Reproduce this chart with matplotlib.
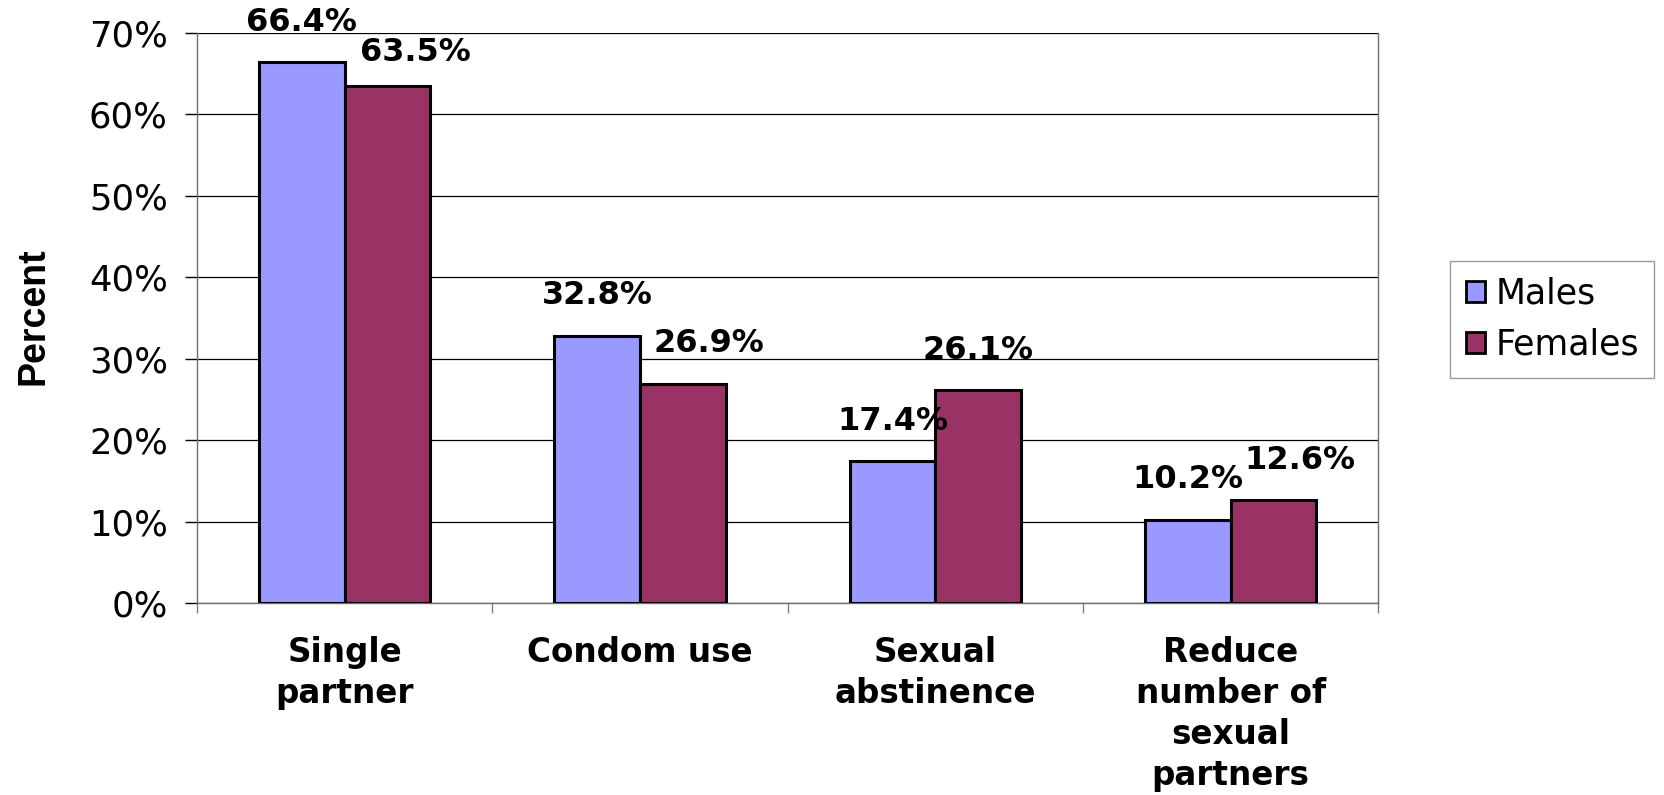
import numpy as np
import matplotlib
matplotlib.use("Agg")
import matplotlib.pyplot as plt
from matplotlib.ticker import FixedLocator, PercentFormatter

# data
categories = ["Single\npartner", "Condom use", "Sexual\nabstinence",
              "Reduce\nnumber of\nsexual\npartners"]
males = [66.4, 32.8, 17.4, 10.2]
females = [63.5, 26.9, 26.1, 12.6]
series_names = ["Males", "Females"]
y_ticks = [0, 10, 20, 30, 40, 50, 60, 70]

# label nudges (pixels) for the female value labels
female_dx = [28, 26, 0, 26]
female_dy = [33, 40, 40, 40]

male_color = "#9999FF"
female_color = "#993366"

plt.rcParams['font.family'] = ['DejaVu Sans']

fig = plt.figure(figsize=(16.64, 7.95), dpi=100)
ax = fig.add_axes([0.1184, 0.2415, 0.8283 - 0.1184, 0.9585 - 0.2415])

x = np.arange(len(categories))
w = 0.29
b1 = ax.bar(x - w / 2, males, w, color=male_color, edgecolor="black",
            linewidth=2.2, label=series_names[0], zorder=3)
b2 = ax.bar(x + w / 2, females, w, color=female_color, edgecolor="black",
            linewidth=2.2, label=series_names[1], zorder=3)

# value labels
for i, r in enumerate(b1):
    ax.annotate(f"{males[i]:.1f}%", (r.get_x() + r.get_width() / 2, r.get_height()),
                xytext=(0, 40), textcoords="offset pixels", ha="center", va="center",
                fontsize=23, fontweight="bold", zorder=5, annotation_clip=False)
for i, r in enumerate(b2):
    ax.annotate(f"{females[i]:.1f}%", (r.get_x() + r.get_width() / 2, r.get_height()),
                xytext=(female_dx[i], female_dy[i]), textcoords="offset pixels",
                ha="center", va="center", fontsize=23, fontweight="bold", zorder=5,
                annotation_clip=False)

ax.set_xlim(-0.5, len(categories) - 0.5)
ax.set_ylim(0, 70)
ax.yaxis.set_major_locator(FixedLocator(y_ticks))
ax.yaxis.set_major_formatter(PercentFormatter(decimals=0))
ax.grid(axis="y", color="black", linewidth=0.9, zorder=0)
ax.set_axisbelow(True)

ax.set_xticks(x)
ax.set_xticklabels(categories, fontsize=23.5, fontweight="bold", linespacing=1.3,
                   va="top")
ax.xaxis.set_minor_locator(FixedLocator(np.arange(-0.5, len(categories), 1.0)))
ax.tick_params(axis="x", which="major", length=0, pad=24)
ax.tick_params(axis="x", which="minor", length=7, width=1, color="#808080")
ax.tick_params(axis="y", length=9, width=1, color="black", labelsize=25.5, pad=12)

for s in ["left", "right", "bottom"]:
    ax.spines[s].set_color("#707070")
    ax.spines[s].set_linewidth(1)
ax.spines["top"].set_visible(False)

fig.text(0.0204, 0.6025, "Percent", rotation=90, ha="center", va="center",
         fontsize=27, fontweight="bold", family=["Liberation Sans", "DejaVu Sans"])

leg = fig.legend(handles=[b1, b2], labels=series_names, loc="upper left",
                 bbox_to_anchor=(0.8714, 0.6717), fontsize=25, frameon=True,
                 fancybox=False, edgecolor="#808080", handlelength=0.55,
                 handleheight=0.55, handletextpad=0.3, labelspacing=0.5,
                 borderpad=0.45, borderaxespad=0)
leg.get_frame().set_linewidth(1)
for p in leg.get_patches():
    p.set_linewidth(2)

fig.savefig("out.png", dpi=100)
